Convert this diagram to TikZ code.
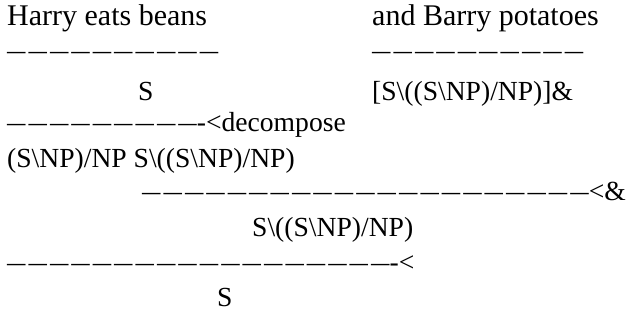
\documentclass[tikz,border=0pt]{standalone}
\usepackage{fontspec}
\setmainfont{Liberation Serif}
\usepackage{graphicx}
% one dash, then (n-1) times gap and dash
\newcommand\dashes[1]{\scalebox{0.667}[1]{—}%
  \foreach \d in {2,...,#1}{\hspace{3pt}\scalebox{0.667}[1]{—}}}
\tikzset{deriv/.style={anchor=base west, inner sep=0pt,
    font=\fontsize{30pt}{36pt}\selectfont},
  cat/.style={deriv, font=\fontsize{27.6pt}{33pt}\selectfont}}
\begin{document}
\begin{tikzpicture}[x=1pt,y=-1pt]
  \useasboundingbox (0,0) rectangle (630,320);
  % Draw words
  \node[deriv] (left) at (7,26) {Harry eats beans};
  \node[deriv] (right) at (372,26) {and Barry potatoes};
  % Draw lexical bars
  \node[cat] (leftbar) at (7,60) {\dashes{10}};
  \node[cat] (rightbar) at (372,60) {\dashes{10}};
  % Draw categories
  \node[cat] (leftcat) at (138,101) {S};
  \node[cat] (rightcat) at (372,101)
        {[S\textbackslash((S\textbackslash NP)/NP)]\&};
  % Draw decomposition
  \node[cat] (decbar) at (7,132) {\dashes{9}-<decompose};
  \node[cat] (splitcat) at (7,168)
        {(S\textbackslash NP)/NP S\textbackslash((S\textbackslash NP)/NP)};
  % Draw coordination
  \node[cat] (coordbar) at (142,201) {\dashes{21}<\&};
  \node[cat] (coordcat) at (252,237) {S\textbackslash((S\textbackslash NP)/NP)};
  % Draw application
  \node[cat] (appbar) at (7,272) {\dashes{18}-<};
  \node[cat] (result) at (217,307) {S};
\end{tikzpicture}
\end{document}
